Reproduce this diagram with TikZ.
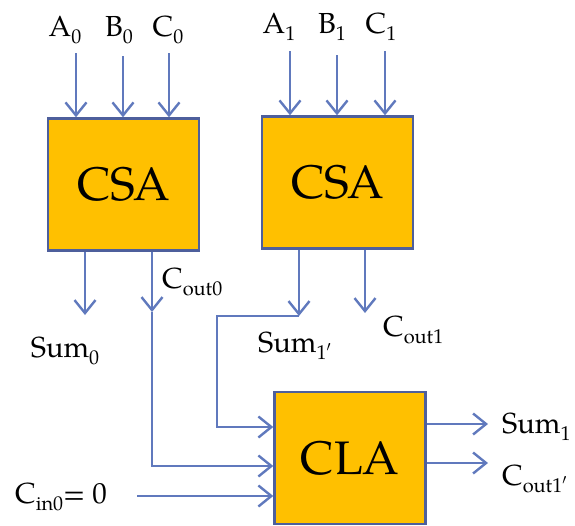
\documentclass[tikz,border=0pt]{standalone}
\usepackage{fontspec}
\setmainfont{TeX Gyre Pagella}
\usetikzlibrary{arrows.meta}
\definecolor{boxfill}{HTML}{FFC000}
\definecolor{boxline}{HTML}{4E5F9C}
\definecolor{wirec}{HTML}{6079BD}
\newcommand\sbs[1]{\raisebox{-0.25em}{\fontsize{20}{20}\selectfont #1}}
\begin{document}
\begin{tikzpicture}[x=1pt,y=-1pt,
 blk/.style={draw=boxline,fill=boxfill,line width=2.4pt,inner sep=0pt,minimum width=151pt,minimum height=132pt,font=\fontsize{47}{47}\selectfont},
 lbl/.style={inner sep=0pt,font=\fontsize{29}{29}\selectfont},
 wire/.style={draw=wirec,line width=2.4pt},
 arr/.style={wire,-{Straight Barb[length=13pt,width=21pt]}}]
\useasboundingbox (0,0) rectangle (575,525);
\node[blk] (csa0) at (123.5,184.5) {CSA};
\node[blk] (csa1) at (337.5,182.5) {CSA};
\node[blk] (cla) at (350,458) {CLA};
% input labels
\node[lbl,anchor=base] (a0) at (65,36) {A\sbs{0}};
\node[lbl,anchor=base] (b0) at (119,36) {B\sbs{0}};
\node[lbl,anchor=base] (c0) at (168,36) {C\sbs{0}};
\node[lbl,anchor=base] (a1) at (279,33) {A\sbs{1}};
\node[lbl,anchor=base] (b1) at (332,33) {B\sbs{1}};
\node[lbl,anchor=base] (c1) at (381,33) {C\sbs{1}};
% input arrows
\coordinate (a0s) at (76,53);
\coordinate (b0s) at (123,56);
\coordinate (c0s) at (169,53);
\coordinate (a1s) at (290,51);
\coordinate (b1s) at (337,55);
\coordinate (c1s) at (385,51);
\foreach \p in {a0s,b0s,c0s} \draw[arr] (\p) -- (\p |- csa0.north);
\foreach \p in {a1s,b1s,c1s} \draw[arr] (\p) -- (\p |- csa1.north);
% CSA0 outputs
\coordinate (s0e) at (85,315);
\draw[arr] (csa0.south -| s0e) -- (s0e);
\coordinate (c0m) at (152,312);
\coordinate (c0c) at (152,466);
\draw[arr] (csa0.south -| c0m) -- (c0m);
\draw[arr] (c0m) -- (c0c) -- (c0c -| cla.west);
% CSA1 outputs
\coordinate (s1e) at (299,316);
\coordinate (s1c) at (217,316);
\coordinate (s1d) at (217,427);
\draw[arr] (csa1.south -| s1e) -- (s1e);
\draw[arr] (s1e) -- (s1c) -- (s1d) -- (s1d -| cla.west);
\coordinate (c1e) at (365,313);
\draw[arr] (csa1.south -| c1e) -- (c1e);
% Cin
\coordinate (cins) at (137,496);
\draw[arr] (cins) -- (cins -| cla.west);
% CLA outputs
\coordinate (sum1e) at (488,424);
\coordinate (cout1e) at (488,463);
\draw[arr] (cla.east |- sum1e) -- (sum1e);
\draw[arr] (cla.east |- cout1e) -- (cout1e);
% output labels
\node[lbl,anchor=base] (sum0) at (65,357) {Sum\sbs{0}};
\node[lbl,anchor=base west] (cout0) at (162,288) {C\sbs{out0}};
\node[lbl,anchor=base west] (sum1p) at (258,352) {Sum\sbs{1$'$}};
\node[lbl,anchor=base west] (cout1) at (383,336) {C\sbs{out1}};
\node[lbl,anchor=base west] (cin0) at (15,503) {C\sbs{in0}= 0};
\node[lbl,anchor=base west] (sum1) at (502,433) {Sum\sbs{1}};
\node[lbl,anchor=base west] (cout1p) at (502,485) {C\sbs{out1$'$}};
\end{tikzpicture}
\end{document}
